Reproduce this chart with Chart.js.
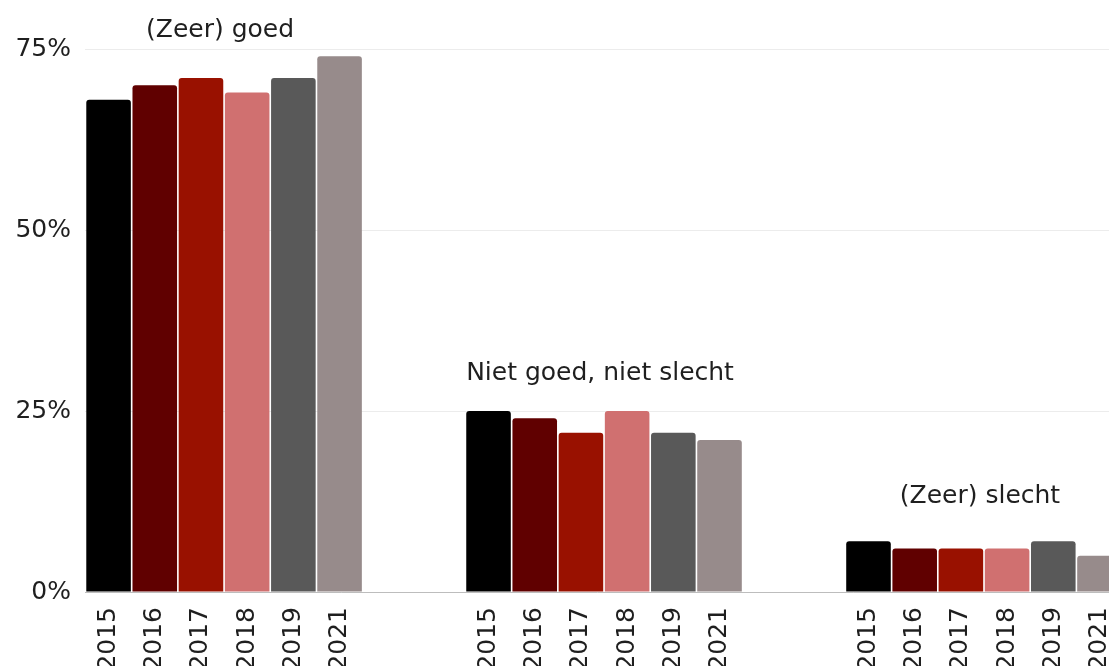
<!DOCTYPE html>
<html>
<head>
<meta charset="utf-8">
<script src="https://cdn.jsdelivr.net/npm/chart.js@4"></script>
<style>
  html, body { margin: 0; padding: 0; background: #fff; overflow: hidden; }
</style>
</head>
<body>
<canvas id="chart" width="1109" height="666"></canvas>
<script>
// categories (one group of bars each) and the years shown in every group
const groups = ['(Zeer) goed', 'Niet goed, niet slecht', '(Zeer) slecht'];
const years = ['2015', '2016', '2017', '2018', '2019', '2021'];

// share per year, in the order of groups
const values2015 = [68, 25, 7];
const values2016 = [70, 24, 6];
const values2017 = [71, 22, 6];
const values2018 = [69, 25, 6];
const values2019 = [71, 22, 7];
const values2021 = [74, 21, 5];

const yTicks = [0, 25, 50, 75];

const seriesValues = [values2015, values2016, values2017, values2018, values2019, values2021];
const barColors = ['#000000', '#600000', '#991100', '#d07070', '#595959', '#978b8b'];
const textColor = '#1f1f1f';
const fontFamily = '"DejaVu Sans", sans-serif';

Chart.defaults.font.family = fontFamily;
Chart.defaults.color = textColor;

// year under every bar, group name above every group
const labelPlugin = {
    id: 'groupLabels',
    afterDraw(chart) {
        const ctx = chart.ctx;
        const xScale = chart.scales.x;
        const yScale = chart.scales.y;
        ctx.save();
        ctx.fillStyle = textColor;
        ctx.font = '25px ' + fontFamily;

        chart.data.datasets.forEach((ds, i) => {
            const meta = chart.getDatasetMeta(i);
            meta.data.forEach(bar => {
                ctx.save();
                ctx.translate(bar.x, yScale.bottom + 15);
                ctx.rotate(-Math.PI / 2);
                ctx.textAlign = 'right';
                ctx.textBaseline = 'middle';
                ctx.fillText(ds.label, 0, 0);
                ctx.restore();
            });
        });

        ctx.textAlign = 'center';
        ctx.textBaseline = 'middle';
        groups.forEach((name, g) => {
            const vals = seriesValues.map(s => s[g]);
            const mean = vals.reduce((a, b) => a + b, 0) / vals.length;
            ctx.fillText(name, xScale.getPixelForValue(g) - 4, yScale.getPixelForValue(mean + 7));
        });
        ctx.restore();
    }
};

const ctx = document.getElementById('chart').getContext('2d');
const chart = new Chart(ctx, {
    type: 'bar',
    data: {
        datasets: years.map((year, i) => ({
            label: year,
            data: seriesValues[i].map((v, g) => ({ x: g, y: v })),
            backgroundColor: barColors[i],
            borderWidth: 0,
            borderRadius: 3,
            categoryPercentage: 0.7295,
            barPercentage: 0.965
        }))
    },
    options: {
        responsive: false,
        animation: false,
        layout: { padding: { top: 49, right: 0, left: 0, bottom: 0 } },
        plugins: {
            legend: { display: false },
            tooltip: { enabled: false }
        },
        scales: {
            x: {
                type: 'linear',
                offset: false,
                bounds: 'data',
                min: -0.366,
                max: 2.329,
                // one tick per group, so the bar width follows the group spacing
                afterBuildTicks(scale) { scale.ticks = groups.map((g, i) => ({ value: i })); },
                ticks: { display: false },
                grid: { display: false, offset: false },
                border: { display: true, color: '#bdbdbd', width: 1 },
                afterFit(scale) { scale.height = 74; }
            },
            y: {
                min: 0,
                max: 75,
                afterBuildTicks(scale) { scale.ticks = yTicks.map(v => ({ value: v })); },
                ticks: {
                    padding: 14,
                    color: textColor,
                    font: { size: 25 },
                    callback: v => v + '%'
                },
                grid: { color: '#ececec', drawTicks: false },
                border: { display: false },
                afterFit(scale) { scale.width = 85; }
            }
        }
    },
    plugins: [labelPlugin]
});
</script>
</body>
</html>
